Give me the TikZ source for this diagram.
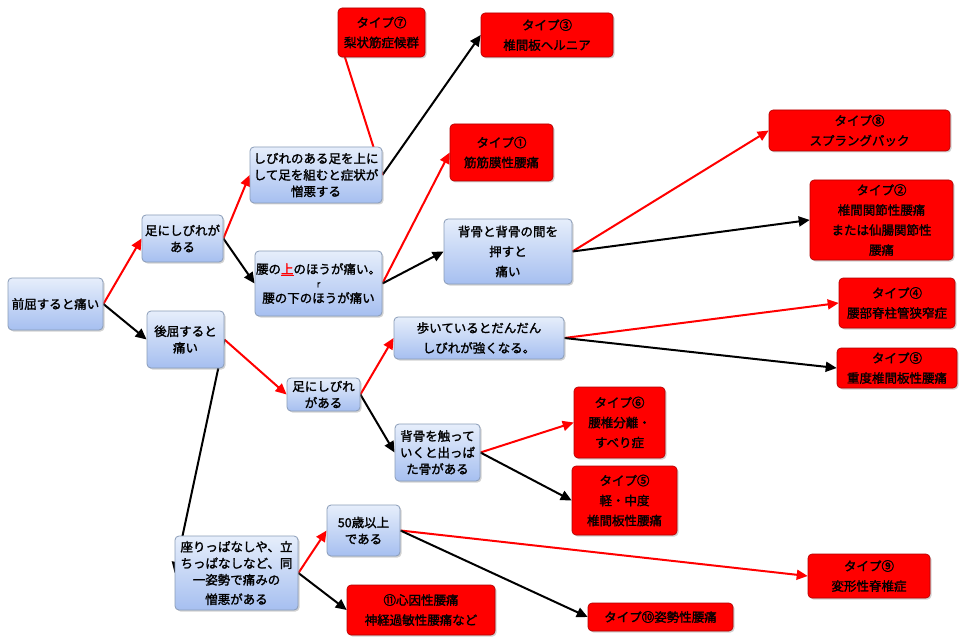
\documentclass[tikz,border=0pt]{standalone}
\usepackage{fontspec}
\newfontfamily\jp[FakeBold=1.6]{Noto Sans CJK JP}
\usetikzlibrary{shadows,arrows.meta,calc}
\pgfdeclarelayer{bg}
\pgfdeclarelayer{paper}
\pgfsetlayers{paper,bg,main}
\definecolor{boxtop}{HTML}{E6EEFB}
\definecolor{boxbot}{HTML}{A6BFF0}
\definecolor{boxline}{HTML}{8A9CB8}
\definecolor{redline}{HTML}{B00000}
\tikzset{
  bluebox/.style={rounded corners=4pt, draw=boxline, line width=0.8pt,
    top color=boxtop, bottom color=boxbot, align=center, inner sep=1pt,
    font=\jp\fontsize{12.5}{16.5}\selectfont,
    drop shadow={opacity=0.35, shadow xshift=1.5pt, shadow yshift=-1.5pt}},
  redbox/.style={rounded corners=4pt, draw=redline, line width=0.6pt,
    fill=red, align=center, inner sep=1pt,
    font=\jp\fontsize{12.5}{20}\selectfont,
    drop shadow={opacity=0.35, shadow xshift=1.5pt, shadow yshift=-1.5pt}},
  redarrow/.style={draw=red, line width=2pt, -{Triangle[length=11pt,width=10pt]}},
  blackarrow/.style={draw=black, line width=2pt, -{Triangle[length=11pt,width=10pt]}},
  redplain/.style={draw=red, line width=2pt},
}
\begin{document}
\begin{tikzpicture}[x=1pt,y=-1pt]
\begin{pgfonlayer}{paper}
\fill[white] (0,0) rectangle (960,644);
\end{pgfonlayer}
\useasboundingbox (0,0) rectangle (960,644);
% blue nodes
\node[bluebox, minimum width=95pt, minimum height=52pt] (n1) at (55.5,304) {前屈すると痛い};
\node[bluebox, minimum width=81pt, minimum height=47pt] (n2) at (182.5,238.5) {足にしびれが\\ある};
\node[bluebox, minimum width=77pt, minimum height=57pt] (n3) at (185.5,339.5) {後屈すると\\痛い};
\node[bluebox, minimum width=132pt, minimum height=56pt] (n4) at (316,175) {しびれのある足を上に\\して足を組むと症状が\\憎悪する};
\node[bluebox, minimum width=127pt, minimum height=65pt] (n5) at (318.5,283.5) {腰の\textcolor{red}{\underline{上}}のほうが痛い。\\[-3pt]{\fontsize{9}{10}\selectfont r}\\[-1pt]腰の下のほうが痛い};
\node[bluebox, minimum width=128pt, minimum height=65pt, font=\jp\fontsize{12.5}{20}\selectfont] (n6) at (508,251.5) {背骨と背骨の間を\\押すと\\痛い};
\node[bluebox, minimum width=170pt, minimum height=42pt, font=\jp\fontsize{12.5}{20}\selectfont] (n7) at (479,338) {歩いているとだんだん\\しびれが強くなる。};
\node[bluebox, minimum width=73pt, minimum height=33pt] (n8) at (323.5,394.5) {足にしびれ\\がある};
\node[bluebox, minimum width=85pt, minimum height=57pt] (n9) at (437.5,452.5) {背骨を触って\\いくと出っぱ\\た骨がある};
\node[bluebox, minimum width=73pt, minimum height=51pt] (n10) at (363.5,530.5) {50歳以上\\である};
\node[bluebox, minimum width=123pt, minimum height=74pt] (n11) at (236.5,573) {座りっぱなしや、立\\ちっぱなしなど、同\\一姿勢で痛みの\\[3pt]憎悪がある};
% red nodes
\node[redbox, minimum width=87pt, minimum height=49pt] (r7) at (381.5,32.5) {タイプ⑦\\梨状筋症候群};
\node[redbox, minimum width=132pt, minimum height=44pt] (r3) at (547,35) {タイプ③\\椎間板ヘルニア};
\node[redbox, minimum width=103pt, minimum height=57pt] (r1) at (501.5,152.5) {タイプ①\\筋筋膜性腰痛};
\node[redbox, minimum width=181pt, minimum height=41pt] (r8) at (859.5,130.5) {タイプ⑧\\スプラングバック};
\node[redbox, minimum width=143pt, minimum height=80pt] (r2) at (881.5,220) {タイプ②\\椎間関節性腰痛\\または仙腸関節性\\腰痛};
\node[redbox, minimum width=116pt, minimum height=50pt] (r4) at (897,303) {タイプ④\\腰部脊柱管狭窄症};
\node[redbox, minimum width=120pt, minimum height=40pt] (r5) at (897,368) {タイプ⑤\\重度椎間板性腰痛};
\node[redbox, minimum width=91pt, minimum height=71pt] (r6) at (619.5,422.5) {タイプ⑥\\腰椎分離・\\すべり症};
\node[redbox, minimum width=105pt, minimum height=69pt] (r5b) at (624.5,500.5) {タイプ⑤\\軽・中度\\椎間板性腰痛};
\node[redbox, minimum width=122pt, minimum height=44pt] (r9) at (869,576) {タイプ⑨\\変形性脊椎症};
\node[redbox, minimum width=145pt, minimum height=28pt] (r10) at (660.5,617) {タイプ⑩姿勢性腰痛};
\node[redbox, minimum width=148pt, minimum height=50pt] (r11) at (421,610) {⑪心因性腰痛\\神経過敏性腰痛など};
% connectors
\begin{pgfonlayer}{bg}
\draw[redarrow] (n1.east) -- (n2.west);
\draw[blackarrow] (n1.east) -- (n3.west);
\draw[redarrow] (n2.east) -- (n4.west);
\draw[blackarrow] (n2.east) -- (n5.west);
\draw[blackarrow] (n4.east) -- (r3.west);
\draw[redplain] (n4.east) -- ($(r7.south west)+(6,-4)$);
\draw[redarrow] (n5.east) -- (r1.west);
\draw[blackarrow] (n5.east) -- (n6.west);
\draw[redarrow] (n6.east) -- (r8.west);
\draw[blackarrow] (n6.east) -- (r2.west);
\draw[redarrow] (n3.east) -- (n8.west);
\draw[blackarrow] (n3.east) -- (n11.west);
\draw[redarrow] (n8.east) -- (n7.west);
\draw[blackarrow] (n8.east) -- (n9.west);
\draw[redarrow] (n7.east) -- (r4.west);
\draw[blackarrow] (n7.east) -- (r5.west);
\draw[redarrow] (n9.east) -- (r6.west);
\draw[blackarrow] (n9.east) -- (r5b.west);
\draw[redarrow] (n11.east) -- (n10.west);
\draw[blackarrow] (n11.east) -- (r11.west);
\draw[redarrow] (n10.east) -- (r9.west);
\draw[blackarrow] (n10.east) -- (r10.west);
\end{pgfonlayer}
\end{tikzpicture}
\end{document}
